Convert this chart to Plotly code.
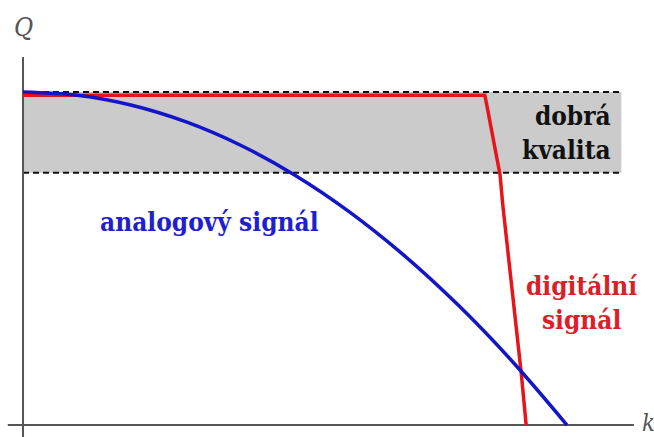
import plotly.graph_objects as go

# Values (k horizontal, Q vertical, arbitrary units)
analog_k = [0, 1, 2, 3, 4, 5, 6, 7, 8, 9, 10]
analog_q = [10.0, 9.9, 9.6, 9.1, 8.4, 7.5, 6.4, 5.1, 3.6, 1.9, 0.0]

digital_k = [0, 8.49, 8.55, 8.62, 8.70, 8.77, 8.82, 8.94, 9.06, 9.16, 9.25]
digital_q = [9.9, 9.9, 9.4, 8.8, 8.1, 7.51, 6.61, 4.85, 3.15, 1.55, 0.0]

band_k = [0, 11.0]
band_top = [10.0, 10.0]
band_bottom = [7.57, 7.57]

axis_k = [-0.28, 11.23]
axis_q = [-0.36, 11.05]

label_analog = "analogový signál"
label_digital = "digitální<br>signál"
label_band = "dobrá<br>kvalita"

serif = "DejaVu Serif Condensed, DejaVu Serif"

fig = go.Figure()

# gray quality band
fig.add_trace(go.Scatter(x=band_k, y=band_bottom, mode="lines",
                         line=dict(width=0), hoverinfo="skip", showlegend=False))
fig.add_trace(go.Scatter(x=band_k, y=band_top, mode="lines", fill="tonexty",
                         fillcolor="#cbcbcb", line=dict(width=0),
                         hoverinfo="skip", showlegend=False))
# dashed borders
for q in (band_top, band_bottom):
    fig.add_trace(go.Scatter(x=band_k, y=q, mode="lines",
                             line=dict(color="#111111", width=2, dash="6px,4px"),
                             hoverinfo="skip", showlegend=False))

# axes
fig.add_trace(go.Scatter(x=axis_k, y=[0, 0], mode="lines",
                         line=dict(color="#555555", width=2), showlegend=False))
fig.add_trace(go.Scatter(x=[0, 0], y=axis_q, mode="lines",
                         line=dict(color="#555555", width=2), showlegend=False))

# digital signal
fig.add_trace(go.Scatter(x=digital_k, y=digital_q, mode="lines",
                         line=dict(color="#e8141c", width=3.5),
                         showlegend=False))
# analog signal
fig.add_trace(go.Scatter(x=analog_k, y=analog_q, mode="lines",
                         line=dict(color="#1414c8", width=3.5, shape="spline"),
                         showlegend=False))

ann = [
    dict(x=0, y=11.95, text="<i>Q</i>", font=dict(family=serif, size=26, color="#555555")),
    dict(x=11.5, y=0.05, text="<i>k</i>", font=dict(family=serif, size=24, color="#555555")),
    dict(x=3.43, y=6.1, text="<b>" + label_analog + "</b>",
         font=dict(family=serif, size=26, color="#1e1ed2")),
    dict(x=10.26, y=3.65, text="<b>" + label_digital + "</b>",
         font=dict(family=serif, size=26, color="#dc1e28")),
    dict(x=10.85, y=8.78, text="<b>" + label_band + "</b>", xanchor="right", align="right",
         font=dict(family=serif, size=26, color="#111111")),
]
for a in ann:
    a.update(xref="x", yref="y", showarrow=False)
    a.setdefault("xanchor", "center")
    a["yanchor"] = "middle"
fig.update_layout(annotations=ann)

fig.update_layout(
    width=654, height=437,
    margin=dict(l=0, r=0, t=0, b=0),
    paper_bgcolor="white", plot_bgcolor="white",
    xaxis=dict(range=[-0.423, 11.6], visible=False, fixedrange=True),
    yaxis=dict(range=[-0.36, 12.76], visible=False, fixedrange=True),
)

fig.write_html("out.html", config={"displayModeBar": False},
               post_script="document.body.style.margin='0';document.body.style.overflow='hidden';")
